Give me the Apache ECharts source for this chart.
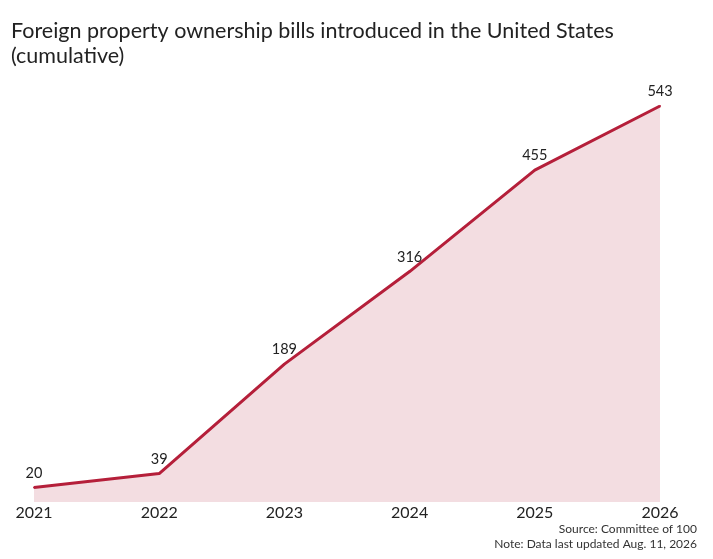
<!DOCTYPE html>
<html>
<head>
<meta charset="utf-8">
<script src="https://cdn.jsdelivr.net/npm/echarts@6/dist/echarts.min.js"></script>
<style>
html, body { margin: 0; padding: 0; background: #fff; }
#main { width: 713px; height: 559px; }
</style>
</head>
<body>
<div id="main"></div>
<script>
var years = ['2021', '2022', '2023', '2024', '2025', '2026'];
var bills = [20, 39, 189, 316, 455, 543];
var notes = ['Source: Committee of 100', 'Note: Data last updated Aug. 11, 2026'];

var myChart = echarts.init(document.getElementById('main'));
myChart.setOption({
    textStyle: { fontFamily: 'Lato, sans-serif' },
    title: {
        text: 'Foreign property ownership bills introduced in the United States\n(cumulative)',
        left: 11,
        top: 19,
        padding: 0,
        textStyle: { fontSize: 21.5, fontWeight: 'normal', color: '#222', lineHeight: 25, fontFamily: 'Lato, sans-serif' }
    },
    graphic: notes.map(function (t, i) {
        return {
            type: 'text',
            right: 16,
            top: 523 + i * 15,
            style: { text: t, fontSize: 12, fill: '#333', fontFamily: 'Lato, sans-serif' }
        };
    }),
    grid: { left: 34, right: 53, top: 106, bottom: 57 },
    xAxis: {
        type: 'category',
        data: years,
        boundaryGap: false,
        axisLine: { show: false },
        axisTick: { show: false },
        axisLabel: { fontSize: 16, color: '#222', margin: 3 }
    },
    yAxis: {
        type: 'value',
        min: 0,
        max: 543,
        show: false,
        splitLine: { show: false }
    },
    series: [{
        type: 'line',
        data: bills,
        symbol: 'circle',
        symbolSize: 2,
        showSymbol: true,
        itemStyle: { color: '#b51f3a' },
        lineStyle: { color: '#b51f3a', width: 3 },
        areaStyle: { color: '#f3dde1', opacity: 1 },
        label: { show: true, position: 'top', fontSize: 14.5, color: '#222', distance: 6 }
    }]
});
</script>
</body>
</html>
